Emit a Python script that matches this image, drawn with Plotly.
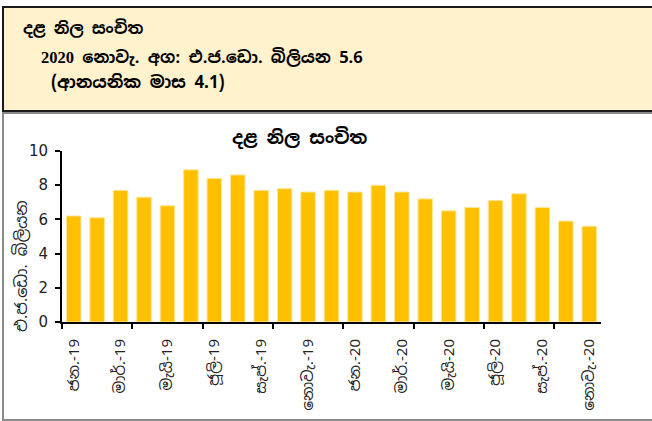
import plotly.graph_objects as go

W, H = 652, 421

months = ["ජන.-19", "පෙබ.-19", "මාර්.-19", "අප්‍රේ.-19", "මැයි-19", "ජූනි-19", "ජූලි-19", "අගෝ.-19",
          "සැප්.-19", "ඔක්.-19", "නොවැ.-19", "දෙසැ.-19", "ජන.-20", "පෙබ.-20", "මාර්.-20", "අප්‍රේ.-20",
          "මැයි-20", "ජූනි-20", "ජූලි-20", "අගෝ.-20", "සැප්.-20", "ඔක්.-20", "නොවැ.-20"]
reserves = [6.2, 6.1, 7.7, 7.3, 6.8, 8.9, 8.4, 8.6, 7.7, 7.8, 7.6, 7.7,
            7.6, 8.0, 7.6, 7.2, 6.5, 6.7, 7.1, 7.5, 6.7, 5.9, 5.6]
label_idx = list(range(0, 23, 2))
tick_labels = [months[i] for i in label_idx]
y_ticks = [0, 2, 4, 6, 8, 10]

header_title = "දළ නිල සංචිත"
header_line2 = "<span style='font-family:Liberation Serif'>2020</span> නොවැ. අග: එ.ජ.ඩො. බිලියන 5.6"
header_line3 = "(ආනයනික මාස 4.1)"
chart_title = "දළ නිල සංචිත"
y_title = "එ.ජ.ඩො. බිලියන"

SIN = "Noto Sans Sinhala, Noto Serif Sinhala, DejaVu Sans, Noto Sans"

def px(x):
    return x / W

def py(y):
    return 1 - y / H

x_pos = list(range(len(reserves)))

fig = go.Figure()
fig.add_trace(go.Bar(
    x=x_pos, y=reserves,
    marker=dict(color="#FFC000", line=dict(color="#FFE699", width=1)),
    width=0.62,
    hoverinfo="skip",
))

fig.update_layout(
    width=W, height=H,
    margin=dict(l=0, r=0, t=0, b=0, pad=0, autoexpand=False),
    paper_bgcolor="white",
    plot_bgcolor="rgba(0,0,0,0)",
    showlegend=False,
    font=dict(family=SIN, size=12, color="#222"),
    xaxis=dict(
        domain=[px(62), px(601)],
        range=[-0.5, 22.5],
        tickmode="array",
        tickvals=label_idx,
        ticktext=tick_labels,
        tickangle=-90,
        ticks="",
        ticklabelstandoff=9,
        showline=True, linecolor="black", linewidth=2,
        showgrid=False, zeroline=False,
        tickfont=dict(size=15, color="#222"),
        minor=dict(tickmode="array", tickvals=[-0.5, 2.5, 5.5, 8.5, 11.5, 14.5, 17.5, 20.5],
                   ticks="outside", ticklen=5, tickwidth=2, tickcolor="black", showgrid=False),
        automargin=False,
        fixedrange=True,
    ),
    yaxis=dict(
        domain=[py(322), py(151)],
        range=[0, 10],
        tickmode="array",
        tickvals=y_ticks,
        ticks="outside", ticklen=5, tickwidth=2, tickcolor="black",
        ticklabelstandoff=4,
        showline=True, linecolor="black", linewidth=2,
        showgrid=False, zeroline=False,
        tickfont=dict(family="DejaVu Sans", size=15, color="#222"),
        automargin=False,
        fixedrange=True,
    ),
)

fig.add_shape(type="rect", xref="paper", yref="paper",
              x0=px(3), x1=px(700), y0=py(113), y1=py(420),
              fillcolor="white", line=dict(color="#8a8a8a", width=2), layer="below")
fig.add_shape(type="rect", xref="paper", yref="paper",
              x0=px(3), x1=px(700), y0=py(111), y1=py(7),
              fillcolor="#FFF2CC", line=dict(color="#1a1a1a", width=2), layer="below")

fig.add_annotation(xref="paper", yref="paper", x=px(21), y=py(28), xanchor="left", yanchor="middle",
                   text="<b>" + header_title + "</b>", showarrow=False,
                   font=dict(size=16, color="black"))
fig.add_annotation(xref="paper", yref="paper", x=px(39), y=py(57), xanchor="left", yanchor="middle",
                   text="<b>" + header_line2 + "</b>", showarrow=False,
                   font=dict(size=16.5, color="black"))
fig.add_annotation(xref="paper", yref="paper", x=px(49), y=py(82), xanchor="left", yanchor="middle",
                   text="<b>" + header_line3 + "</b>", showarrow=False,
                   font=dict(size=17, color="black"))
fig.add_annotation(xref="paper", yref="paper", x=px(300), y=py(137), xanchor="center", yanchor="middle",
                   text="<b>" + chart_title + "</b>", showarrow=False,
                   font=dict(size=18, color="black"))
fig.add_annotation(xref="paper", yref="paper", x=px(21), y=py(266), xanchor="center", yanchor="middle",
                   text=y_title, textangle=-90, showarrow=False,
                   font=dict(size=16, color="#222"))

css = ("var s=document.createElement('style');"
       "s.innerHTML='html,body{margin:0;padding:0;overflow:hidden;height:421px;}';"
       "document.head.appendChild(s);")
fig.write_html("out.html", config={"displayModeBar": False}, post_script=css)
